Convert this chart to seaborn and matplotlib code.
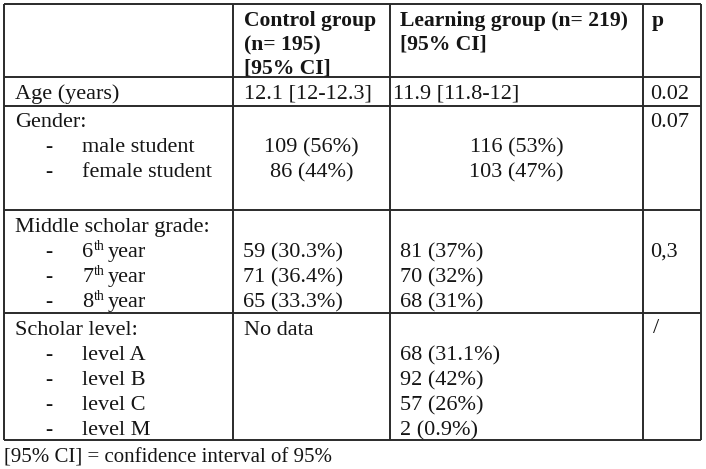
import matplotlib
matplotlib.use("Agg")
import matplotlib.pyplot as plt
import seaborn as sns

# ---------------- data ----------------
header_control = ["Control group", "(n= 195)", "[95% CI]"]
header_learning = ["Learning group (n= 219)", "[95% CI]"]
header_p = "p"

age_label = "Age (years)"
age_control = "12.1 [12-12.3]"
age_learning = "11.9 [11.8-12]"
age_p = "0.02"

gender_title = "Gender:"
gender_cats = ["male student", "female student"]
gender_control_n = [109, 86]
gender_control_pct = [56, 44]
gender_learning_n = [116, 103]
gender_learning_pct = [53, 47]
gender_p = "0.07"

grade_title = "Middle scholar grade:"
grade_years = [6, 7, 8]
grade_control_n = [59, 71, 65]
grade_control_pct = [30.3, 36.4, 33.3]
grade_learning_n = [81, 70, 68]
grade_learning_pct = [37, 32, 31]
grade_p = "0,3"

level_title = "Scholar level:"
level_cats = ["level A", "level B", "level C", "level M"]
level_control = "No data"
level_learning_n = [68, 92, 57, 2]
level_learning_pct = [31.1, 42, 26, 0.9]
level_p = "/"

footnote = "[95% CI] = confidence interval of 95%"

# ---------------- style ----------------
sns.set_theme(style="white")
plt.rcParams["font.family"] = ["Liberation Serif", "DejaVu Serif"]

FS = 16
FSB = 15.6
TXT = "#151515"
LINE = "#2a2a2a"

fig = plt.figure(figsize=(7.06, 4.69), dpi=100)
ax = fig.add_axes([0, 0, 1, 1])
ax.set_xlim(0, 706)
ax.set_ylim(469, 0)
ax.axis("off")
renderer = fig.canvas.get_renderer()

# grid layout (pixels)
x_left, x_c1, x_c2, x_c3, x_right = 4, 233, 390, 643, 701
y_lines = [4, 77, 106, 210, 313, 440]

ax.hlines(y_lines, x_left, x_right, color=LINE, lw=1.4)
ax.vlines([x_left, x_c1, x_c2, x_c3, x_right], y_lines[0], y_lines[-1], color=LINE, lw=1.4)


def t(x, y, s, ha="left", bold=False, size=None):
    if size is None:
        size = FSB if bold else FS
    return ax.text(x, y, s, ha=ha, va="baseline", fontsize=size, color=TXT,
                   fontweight="bold" if bold else "normal")


def fmt(n, p):
    return f"{n} ({p:g}%)"


def ordinal_year(x, y, yr):
    a = t(x, y, str(yr))
    x1 = a.get_window_extent(renderer).x1
    b = t(x1 + 0.5, y - 7, "th", size=10)
    x2 = b.get_window_extent(renderer).x1
    t(x2 + 3, y, "year")


# header
for i, s in enumerate(header_control):
    t(244, 26 + 24 * i, s, bold=True)
for i, s in enumerate(header_learning):
    t(400, 26 + 24 * i, s, bold=True)
t(652, 26, header_p, bold=True)

# age
t(15, 99, age_label)
t(244, 99, age_control)
t(393, 99, age_learning)
t(650, 99, age_p)

# gender
t(15, 127, gender_title)
t(650, 127, gender_p)
c1_mid = (x_c1 + x_c2) / 2
c2_mid = (x_c2 + x_c3) / 2
for i, cat in enumerate(gender_cats):
    y = 152 + 25 * i
    t(49, y, "-", ha="center", bold=True)
    t(82, y, cat)
    t(c1_mid, y, fmt(gender_control_n[i], gender_control_pct[i]), ha="center")
    t(c2_mid, y, fmt(gender_learning_n[i], gender_learning_pct[i]), ha="center")

# grade
t(15, 232, grade_title)
t(650, 257, grade_p)
for i, yr in enumerate(grade_years):
    y = 257 + 25 * i
    t(49, y, "-", ha="center", bold=True)
    ordinal_year(82, y, yr)
    t(243, y, fmt(grade_control_n[i], grade_control_pct[i]))
    t(400, y, fmt(grade_learning_n[i], grade_learning_pct[i]))

# scholar level
t(15, 335, level_title)
t(244, 335, level_control)
t(653, 333, level_p)
for i, cat in enumerate(level_cats):
    y = 360 + 25 * i
    t(49, y, "-", ha="center", bold=True)
    t(82, y, cat)
    t(400, y, fmt(level_learning_n[i], level_learning_pct[i]))

# footnote
t(4, 462, footnote, size=15)

fig.savefig("out.png", dpi=100, facecolor="white")
